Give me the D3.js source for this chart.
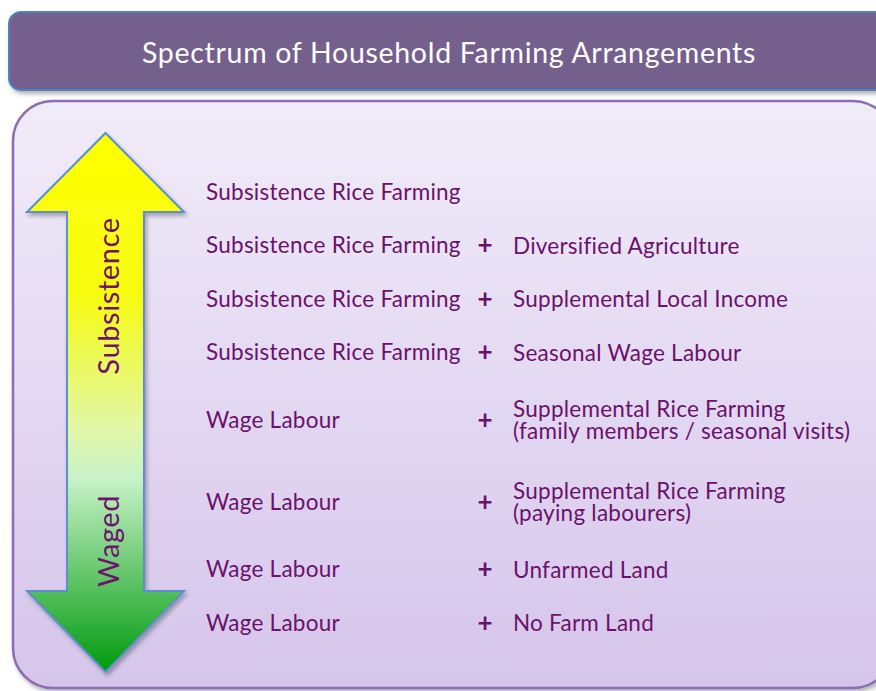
<!DOCTYPE html>
<html>
<head>
<meta charset="utf-8">
<script src="https://cdn.jsdelivr.net/npm/d3@7"></script>
<style>
  body { margin: 0; background: #fff; }
  svg { display: block; }
  text { font-family: Lato, "Open Sans", sans-serif; }
</style>
</head>
<body>
<svg id="chart" width="876" height="691"></svg>
<script>
// diagram content
let title = "Spectrum of Household Farming Arrangements"
let poles = ["Subsistence", "Waged"]
let leftLabels = [
  "Subsistence Rice Farming",
  "Subsistence Rice Farming",
  "Subsistence Rice Farming",
  "Subsistence Rice Farming",
  "Wage Labour",
  "Wage Labour",
  "Wage Labour",
  "Wage Labour"
]
let rightLabels = [
  [],
  ["Diversified Agriculture"],
  ["Supplemental Local Income"],
  ["Seasonal Wage Labour"],
  ["Supplemental Rice Farming", "(family members / seasonal visits)"],
  ["Supplemental Rice Farming", "(paying labourers)"],
  ["Unfarmed Land"],
  ["No Farm Land"]
]

let svg = d3.select("#chart")
let defs = svg.append("defs")

// gradients
let bg = defs.append("linearGradient").attr("id", "bg")
  .attr("x1", 0).attr("y1", 0).attr("x2", 0).attr("y2", 1)
bg.append("stop").attr("offset", "0%").attr("stop-color", "#f1ecf9")
bg.append("stop").attr("offset", "100%").attr("stop-color", "#d5c5eb")

let ag = defs.append("linearGradient").attr("id", "arrowGrad")
  .attr("x1", 0).attr("y1", 0).attr("x2", 0).attr("y2", 1)
ag.append("stop").attr("offset", "0%").attr("stop-color", "#ffff00")
ag.append("stop").attr("offset", "30%").attr("stop-color", "#f6fb10")
ag.append("stop").attr("offset", "55%").attr("stop-color", "#e2f7a8")
ag.append("stop").attr("offset", "64%").attr("stop-color", "#c8f2c8")
ag.append("stop").attr("offset", "100%").attr("stop-color", "#009a0e")

let shadow = defs.append("filter").attr("id", "shadow")
  .attr("x", "-5%").attr("y", "-5%").attr("width", "115%").attr("height", "120%")
shadow.append("feDropShadow").attr("dx", 2).attr("dy", 3)
  .attr("stdDeviation", 2).attr("flood-color", "#000").attr("flood-opacity", 0.3)

// title box
svg.append("rect")
  .attr("x", 9).attr("y", 12).attr("width", 890).attr("height", 78)
  .attr("rx", 12)
  .attr("fill", "#745f8c")
  .attr("stroke", "#4f81bd").attr("stroke-width", 2)
  .attr("filter", "url(#shadow)")

svg.append("text")
  .attr("x", 449).attr("y", 56)
  .attr("text-anchor", "middle").attr("dominant-baseline", "middle")
  .attr("fill", "#fff").attr("font-size", 28.5).attr("letter-spacing", 0.7)
  .text(title)

// main panel
svg.append("rect")
  .attr("x", 13).attr("y", 101).attr("width", 880).attr("height", 587)
  .attr("rx", 40)
  .attr("fill", "url(#bg)")
  .attr("stroke", "#8c6db3").attr("stroke-width", 2.5)
  .attr("filter", "url(#shadow)")

// double arrow along a scale from subsistence (top) to waged (bottom)
let yArrow = d3.scaleLinear().domain([0, 1]).range([133, 672])
let xArrow = d3.scaleLinear().domain([-1, 1]).range([27, 184])
let headH = 79, shaftHalf = 0.49
let arrowPts = [
  [0, yArrow(0)],
  [1, yArrow(0) + headH],
  [shaftHalf, yArrow(0) + headH],
  [shaftHalf, yArrow(1) - headH - 2],
  [1, yArrow(1) - headH - 2],
  [0, yArrow(1)],
  [-1, yArrow(1) - headH - 2],
  [-shaftHalf, yArrow(1) - headH - 2],
  [-shaftHalf, yArrow(0) + headH],
  [-1, yArrow(0) + headH]
]
svg.append("path")
  .attr("d", d3.line().x(p => xArrow(p[0])).y(p => p[1])(arrowPts) + "Z")
  .attr("fill", "url(#arrowGrad)")
  .attr("stroke", "#5b8fcf").attr("stroke-width", 2)
  .attr("stroke-linejoin", "miter")
  .attr("filter", "url(#shadow)")

let poleY = d3.scalePoint().domain(poles).range([296, 541])
svg.selectAll("text.pole")
  .data(poles)
  .enter()
  .append("text")
  .attr("class", "pole")
  .attr("transform", d => `translate(${xArrow(0) + 6},${poleY(d)}) rotate(-90)`)
  .attr("text-anchor", "middle").attr("dominant-baseline", "middle")
  .attr("fill", "#6e146c").attr("font-size", 29).attr("letter-spacing", 0.6)
  .text(d => d)

// rows: height grows with the number of text lines on the right
let lineH = 22, baseH = 53.5
let heights = rightLabels.map(r => baseH + Math.max(0, r.length - 1) * (lineH * 1.28))
let tops = [], acc = 0
heights.forEach(h => { tops.push(acc); acc += h })
let yRow = d3.scaleLinear().domain([0, acc]).range([167.5, 167.5 + acc])
let rowCenter = i => yRow(tops[i] + heights[i] / 2)

let textColor = "#6b116b"
let rows = svg.selectAll("g.row")
  .data(leftLabels)
  .enter()
  .append("g")
  .attr("class", "row")

rows.append("text")
  .attr("x", 206).attr("y", (d, i) => rowCenter(i))
  .attr("dominant-baseline", "middle")
  .attr("fill", textColor).attr("font-size", 22.5).attr("letter-spacing", 0.25)
  .text(d => d)

rows.each(function(d, i) {
  let lines = rightLabels[i]
  let g = d3.select(this)
  if (lines.length === 0) return
  g.append("text")
    .attr("x", 485).attr("y", rowCenter(i))
    .attr("text-anchor", "middle").attr("dominant-baseline", "middle")
    .attr("fill", textColor).attr("font-size", 26).attr("font-weight", "bold")
    .text("+")
  // multi-line labels go into one text element as tspans
  let t = g.append("text")
    .attr("fill", textColor).attr("font-size", 22.5).attr("letter-spacing", 0.25)
    .attr("dominant-baseline", "middle")
  lines.forEach((line, j) => {
    t.append("tspan")
      .attr("x", 513)
      .attr("y", rowCenter(i) + (j - (lines.length - 1) / 2) * lineH)
      .text(line)
  })
})
</script>
</body>
</html>
